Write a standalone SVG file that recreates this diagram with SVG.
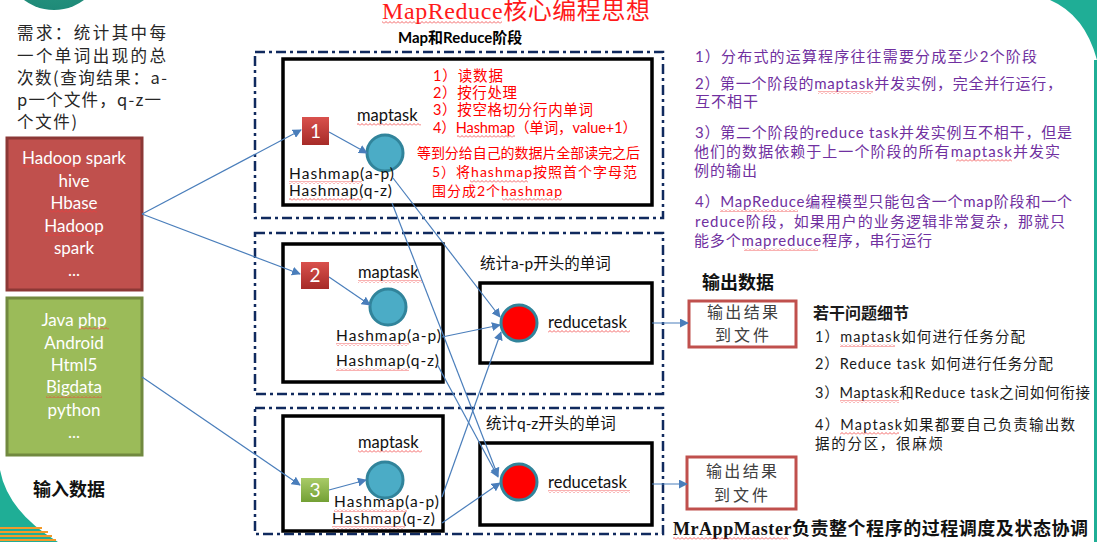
<svg xmlns="http://www.w3.org/2000/svg" width="1097" height="542" viewBox="0 0 1097 542">
<style>
.lat{font-family:Lato,"Noto Sans CJK SC",sans-serif}
.cjk{font-family:"Noto Sans CJK SC",sans-serif}
.ser{font-family:"Liberation Serif","Noto Sans CJK SC",serif}
.outer{fill:none;stroke:#102a5e;stroke-width:2.5;stroke-dasharray:10 4 3 4}
.inner{fill:none;stroke:#000;stroke-width:3.5}
.mc{fill:#4bacc6;stroke:#31849b;stroke-width:3}
.rc{fill:#ff0000;stroke:#31849b;stroke-width:3}
.conn{stroke:#4a7ebb;stroke-width:1.2;fill:none;marker-end:url(#ah)}
.sq{fill:url(#wave)}
.red{fill:#ff0000}
.pur{fill:#7030a0}
.wt{fill:#fff}
.ob{fill:#fff;stroke:#c0504d;stroke-width:3}
.hm{font-family:Lato,sans-serif;font-size:15.5px;fill:#111}
.ot{font-family:"Noto Sans CJK SC",sans-serif;font-size:16px;fill:#404040}
</style>
<defs>
<marker id="ah" viewBox="0 0 10 10" refX="9" refY="5" markerWidth="9" markerHeight="9" markerUnits="userSpaceOnUse" orient="auto">
<path d="M0,0 L10,5 L0,10 z" fill="#4a7ebb"/>
</marker>
<pattern id="wave" width="4" height="3" patternUnits="userSpaceOnUse">
<path d="M0,2.5 L2,0.5 L4,2.5" fill="none" stroke="#f03c3c" stroke-width="0.8"/>
</pattern>
<linearGradient id="gr" x1="0" y1="0" x2="0" y2="1">
<stop offset="0" stop-color="#d9514d"/><stop offset="1" stop-color="#a62b28"/>
</linearGradient>
<linearGradient id="gg" x1="0" y1="0" x2="0" y2="1">
<stop offset="0" stop-color="#a9cb68"/><stop offset="1" stop-color="#73a034"/>
</linearGradient>
<radialGradient id="tc" cx="0.5" cy="0.3" r="0.7">
<stop offset="0" stop-color="#3aa88e"/><stop offset="1" stop-color="#1e8a78"/>
</radialGradient>
</defs>
<rect width="1097" height="542" fill="#fff"/>
<g id="background">
<circle cx="54" cy="-40" r="50" fill="url(#tc)"/>
<path d="M1050,0 Q1085,15 1097,60 L1097,0 Z" fill="#1fae96"/>
<rect x="1094" y="60" width="3" height="482" fill="#1fae96"/>
<path d="M0,470 Q8,512 58,542 L0,542 Z" fill="#1fae96"/>
<path d="M0,528 L42,528 M0,532 L48,532 M0,536 L52,536 M0,540 L56,540" stroke="#f39a2a" stroke-width="2"/>
</g>

<g id="title">
<text x="382" y="19" class="ser" font-size="24" fill="#ff1a1a" textLength="268">MapReduce核心编程思想</text>
<rect x="382" y="21" width="120" height="3" class="sq"/>
</g>
<text x="398" y="43" class="lat" font-size="15" font-weight="bold" fill="#000">Map和Reduce阶段</text>

<g id="requirement" class="cjk" font-size="16.5" fill="#262626">
<text x="17" y="39" textLength="149">需求：统计其中每</text>
<text x="17" y="62" textLength="149">一个单词出现的总</text>
<text x="17" y="84" textLength="150">次数(查询结果：a-</text>
<text x="17" y="106" textLength="144">p一个文件，q-z一</text>
<text x="17" y="128" textLength="60">个文件)</text>
</g>

<g id="input-red">
<rect x="7" y="138" width="135" height="152" fill="#c0504d" stroke="#8c3836" stroke-width="3"/>
<g class="lat wt" font-size="17" text-anchor="middle">
<text x="74" y="164">Hadoop spark</text>
<text x="74" y="187">hive</text>
<text x="74" y="209">Hbase</text>
<text x="74" y="232">Hadoop</text>
<text x="74" y="254">spark</text>
<text x="74" y="276">...</text>
</g>
<rect x="22" y="165" width="59" height="3" class="sq"/>
<rect x="50" y="210" width="47" height="3" class="sq"/>
<rect x="44" y="233" width="60" height="3" class="sq"/>
</g>

<g id="input-green">
<rect x="7" y="298" width="135" height="157" fill="#9bbb59" stroke="#71893f" stroke-width="3"/>
<g class="lat wt" font-size="17" text-anchor="middle">
<text x="74" y="326">Java php</text>
<text x="74" y="349">Android</text>
<text x="74" y="371">Html5</text>
<text x="74" y="393">Bigdata</text>
<text x="74" y="416">python</text>
<text x="74" y="438">...</text>
</g>
<rect x="79" y="327" width="30" height="3" class="sq"/>
<rect x="46" y="395" width="56" height="3" class="sq"/>
</g>
<text x="33" y="496" class="ser" font-size="18" font-weight="bold" fill="#111">输入数据</text>

<g id="map-stage-1">
<rect x="255" y="52" width="408" height="166" class="outer"/>
<rect x="283" y="59" width="369" height="146" class="inner"/>
<text x="357" y="121" class="lat" font-size="16.5" fill="#111">maptask</text>
<rect x="357" y="123" width="64" height="3" class="sq"/>
<circle cx="385" cy="153" r="18" class="mc"/>
<text x="289" y="179" class="hm" textLength="105">Hashmap(a-p)</text>
<text x="289" y="196" class="hm" textLength="103">Hashmap(q-z)</text>
<rect x="289" y="181" width="73" height="3" class="sq"/>
<rect x="289" y="198" width="73" height="3" class="sq"/>
<g class="lat red" font-size="14.5">
<text x="433" y="81" textLength="70">1）读数据</text>
<text x="433" y="98" textLength="84">2）按行处理</text>
<text x="433" y="115" textLength="160">3）按空格切分行内单词</text>
<text x="433" y="133" textLength="204">4）Hashmap（单词，value+1）</text>
<text x="417" y="158" textLength="223" font-size="14">等到分给自己的数据片全部读完之后</text>
<text x="432" y="177" textLength="205" font-size="14">5）将hashmap按照首个字母范</text>
<text x="432" y="196" font-size="14" textLength="130">围分成2个hashmap</text>
</g>
<rect x="457" y="135" width="58" height="3" class="sq"/>
<rect x="470" y="180" width="58" height="3" class="sq"/>
<rect x="502" y="198" width="60" height="3" class="sq"/>
</g>
<g id="square-1">
<rect x="302" y="117" width="27" height="28" fill="url(#gr)"/>
<text x="315.5" y="138" class="lat wt" font-size="19" text-anchor="middle">1</text>
</g>

<g id="map-stage-2">
<rect x="255" y="233" width="408" height="161" class="outer"/>
<rect x="283" y="244" width="160" height="138" class="inner"/>
<text x="358" y="278" class="lat" font-size="16.5" fill="#111">maptask</text>
<rect x="358" y="280" width="64" height="3" class="sq"/>
<circle cx="388" cy="307" r="18" class="mc"/>
<text x="336" y="341" class="hm" textLength="105">Hashmap(a-p)</text>
<text x="336" y="366" class="hm" textLength="103">Hashmap(q-z)</text>
<rect x="336" y="343" width="73" height="3" class="sq"/>
<rect x="336" y="368" width="73" height="3" class="sq"/>
<text x="480" y="269" class="lat" font-size="15.5" fill="#111">统计a-p开头的单词</text>
</g>
<g id="square-2">
<rect x="301" y="262" width="28" height="27" fill="url(#gr)"/>
<text x="315" y="282" class="lat wt" font-size="19" text-anchor="middle">2</text>
</g>
<g id="reduce-1">
<rect x="480" y="283" width="172" height="80" class="inner"/>
<circle cx="519" cy="323" r="18" class="rc"/>
<text x="548" y="328" class="lat" font-size="16.5" fill="#111">reducetask</text>
<rect x="548" y="330" width="82" height="3" class="sq"/>
</g>

<g id="map-stage-3">
<rect x="255" y="408" width="408" height="126" class="outer"/>
<rect x="283" y="416" width="160" height="115" class="inner"/>
<text x="358" y="448" class="lat" font-size="16.5" fill="#111">maptask</text>
<rect x="358" y="450" width="64" height="3" class="sq"/>
<circle cx="385" cy="480" r="18" class="mc"/>
<text x="334" y="507" class="hm" textLength="105">Hashmap(a-p)</text>
<text x="332" y="524" class="hm" textLength="103">Hashmap(q-z)</text>
<rect x="334" y="509" width="73" height="3" class="sq"/>
<rect x="332" y="526" width="73" height="3" class="sq"/>
<text x="486" y="429" class="lat" font-size="15.5" fill="#111">统计q-z开头的单词</text>
</g>
<g id="square-3">
<rect x="301" y="478" width="28" height="24" fill="url(#gg)"/>
<text x="315" y="497" class="lat wt" font-size="19" text-anchor="middle">3</text>
</g>
<g id="reduce-2">
<rect x="480" y="443" width="172" height="82" class="inner"/>
<circle cx="519" cy="482" r="18" class="rc"/>
<text x="548" y="488" class="lat" font-size="16.5" fill="#111">reducetask</text>
<rect x="548" y="490" width="82" height="3" class="sq"/>
</g>

<g id="notes" class="lat pur" font-size="15">
<text x="695" y="62" textLength="342">1）分布式的运算程序往往需要分成至少2个阶段</text>
<text x="695" y="89" textLength="367">2）第一个阶段的maptask并发实例，完全并行运行，</text>
<text x="695" y="107" textLength="63">互不相干</text>
<text x="695" y="138" textLength="377">3）第二个阶段的reduce task并发实例互不相干，但是</text>
<text x="694" y="157" textLength="366">他们的数据依赖于上一个阶段的所有maptask并发实</text>
<text x="694" y="176" textLength="63">例的输出</text>
<text x="695" y="207" textLength="377">4）MapReduce编程模型只能包含一个map阶段和一个</text>
<text x="695" y="227" textLength="370">reduce阶段，如果用户的业务逻辑非常复杂，那就只</text>
<text x="694" y="246" textLength="238">能多个mapreduce程序，串行运行</text>
<rect x="818" y="91" width="55" height="3" class="sq"/>
<rect x="956" y="159" width="56" height="3" class="sq"/>
<rect x="720" y="209" width="78" height="3" class="sq"/>
<rect x="744" y="248" width="74" height="3" class="sq"/>
</g>

<text x="702" y="289" class="ser" font-size="18" font-weight="bold" fill="#111">输出数据</text>
<g id="output-1">
<rect x="689" y="301" width="107" height="46" class="ob"/>
<text x="707" y="317.5" class="ot" textLength="71">输出结果</text>
<text x="715" y="341" class="ot" textLength="54">到文件</text>
</g>
<g id="output-2">
<rect x="687" y="457" width="109" height="52" class="ob"/>
<text x="706" y="477" class="ot" textLength="71">输出结果</text>
<text x="714" y="500.5" class="ot" textLength="54">到文件</text>
</g>

<g id="details" class="lat" font-size="14.5" fill="#1a1a1a">
<text x="813" y="319" font-size="16" font-weight="bold" class="cjk">若干问题细节</text>
<text x="815" y="342" textLength="210">1）maptask如何进行任务分配</text>
<text x="815" y="369" textLength="238">2）Reduce task 如何进行任务分配</text>
<text x="815" y="398" textLength="275">3）Maptask和Reduce task之间如何衔接</text>
<text x="815" y="430" textLength="260">4）Maptask如果都要自己负责输出数</text>
<text x="815" y="449" textLength="128">据的分区，很麻烦</text>
<rect x="840" y="344" width="55" height="3" class="sq"/>
<rect x="840" y="400" width="59" height="3" class="sq"/>
<rect x="840" y="432" width="59" height="3" class="sq"/>
</g>

<text x="673" y="535" class="ser" font-size="18" font-weight="bold" fill="#111" textLength="415">MrAppMaster负责整个程序的过程调度及状态协调</text>
<rect x="673" y="537" width="115" height="3" class="sq"/>

<g id="connectors">
<path d="M142,214 L301,130" class="conn"/>
<path d="M142,214 L300,274" class="conn"/>
<path d="M142,377 L300,485" class="conn"/>
<path d="M329,132 L367,153" class="conn"/>
<path d="M329,277 L370,305" class="conn"/>
<path d="M329,490 L366,480" class="conn"/>
<path d="M393,178 L500,317" class="conn"/>
<path d="M392,203 L498,476" class="conn"/>
<path d="M442,337 L500,325" class="conn"/>
<path d="M437,364 L498,477" class="conn"/>
<path d="M442,497 L501,332" class="conn"/>
<path d="M442,523 L500,483" class="conn"/>
<path d="M652,323 L688,323" class="conn"/>
<path d="M652,484 L687,484" class="conn"/>
</g>
</svg>
